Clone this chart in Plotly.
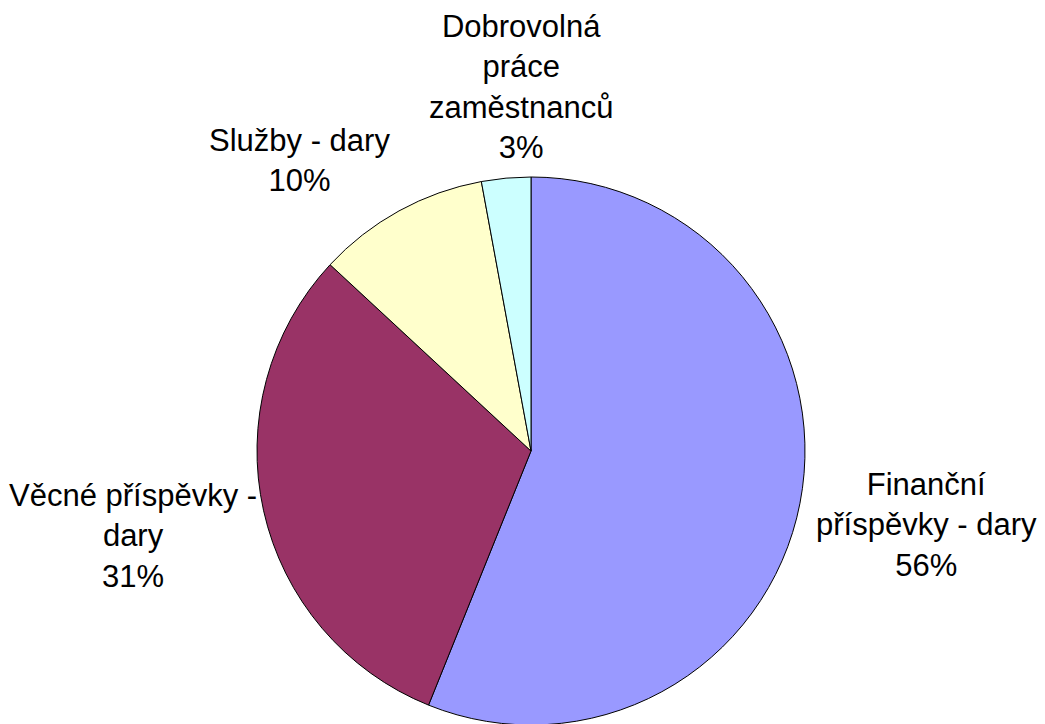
import plotly.graph_objects as go

# Data
labels = ["Finanční příspěvky - dary", "Věcné příspěvky - dary", "Služby - dary", "Dobrovolná práce zaměstnanců"]
values = [56.1, 30.8, 10.2, 2.9]
colors = ["#9999FF", "#993366", "#FFFFCC", "#CCFFFF"]

# Label layout (wrapped text and positions in pixels of the figure)
W, H = 1045, 724
label_lines = [
    ["Finanční", "příspěvky - dary"],
    ["Věcné příspěvky -", "dary"],
    ["Služby - dary"],
    ["Dobrovolná", "práce", "zaměstnanců"],
]
label_pos = [(918, 517), (125, 528), (291, 152), (513, 79)]

total = sum(values)
fig = go.Figure()
fig.add_trace(go.Pie(
    labels=labels,
    values=values,
    sort=False,
    direction="clockwise",
    rotation=0,
    textinfo="none",
    hoverinfo="none",
    marker=dict(colors=colors, line=dict(color="black", width=1)),
    domain=dict(x=[249 / W, 797 / W], y=[7 / H, 1 - 169 / H]),
    showlegend=False,
))

for lines, v, (px, py) in zip(label_lines, values, label_pos):
    pct = round(v / total * 100)
    text = "<br>".join(lines + [f"{pct}%"])
    fig.add_annotation(
        x=px / W, y=1 - py / H, xref="paper", yref="paper",
        text=text, showarrow=False, xanchor="center", yanchor="middle",
        align="center",
        font=dict(family="Liberation Sans, Arial, sans-serif", size=31, color="black"),
    )

fig.update_layout(
    width=W, height=H,
    margin=dict(l=0, r=0, t=0, b=0),
    paper_bgcolor="white",
    plot_bgcolor="white",
)

fig.write_html("out.html")
